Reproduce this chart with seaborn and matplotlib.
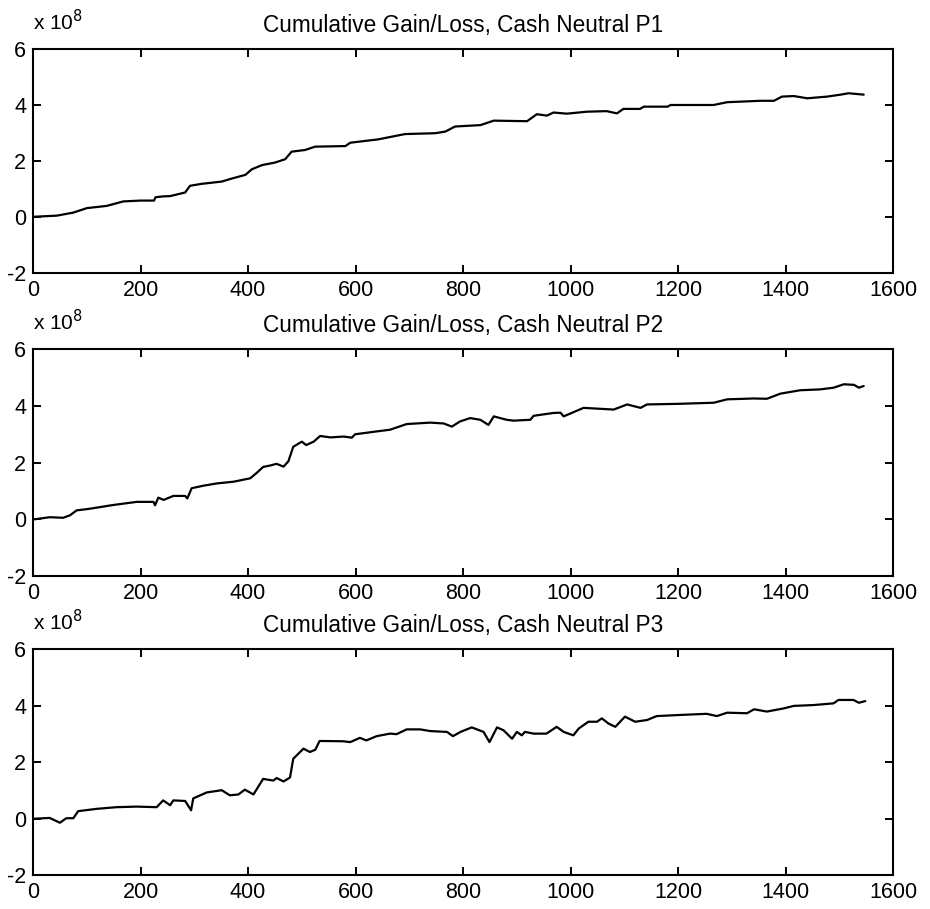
import matplotlib
matplotlib.use("Agg")
import matplotlib.pyplot as plt
import seaborn as sns
import pandas as pd

# values, y in units of 1e8
p1_x = [0, 44, 75, 100, 137, 168, 199, 225, 228, 242, 255, 283, 292, 314, 351, 370, 395, 407, 426, 450,
        469, 481, 506, 525, 581, 590, 642, 692, 748, 767, 785, 804, 832, 857, 919, 937, 956, 968, 993, 1030,
        1067, 1086, 1098, 1129, 1136, 1180, 1186, 1229, 1266, 1291, 1353, 1378, 1393, 1415, 1440, 1477, 1502, 1517, 1545]
p1_y = [0.0, 0.04, 0.15, 0.31, 0.39, 0.55, 0.58, 0.58, 0.70, 0.73, 0.74, 0.87, 1.11, 1.18, 1.26, 1.37, 1.50, 1.70, 1.85, 1.94,
        2.06, 2.33, 2.39, 2.51, 2.53, 2.65, 2.77, 2.96, 2.99, 3.05, 3.23, 3.25, 3.28, 3.44, 3.42, 3.67, 3.62, 3.73, 3.69, 3.76,
        3.78, 3.70, 3.86, 3.86, 3.94, 3.94, 4.00, 4.00, 4.00, 4.10, 4.15, 4.15, 4.30, 4.32, 4.24, 4.30, 4.37, 4.42, 4.37]

p2_x = [0, 31, 56, 69, 81, 106, 149, 193, 224, 227, 233, 243, 261, 283, 287, 295, 317, 342, 373, 404,
        416, 428, 441, 453, 466, 475, 484, 500, 508, 522, 534, 553, 578, 593, 599, 639, 664, 695, 739, 764,
        779, 794, 813, 832, 847, 857, 881, 894, 925, 931, 968, 981, 987, 1024, 1080, 1105, 1130, 1142, 1197, 1266,
        1291, 1340, 1365, 1390, 1427, 1464, 1489, 1508, 1527, 1536, 1545]
p2_y = [0.0, 0.08, 0.06, 0.15, 0.32, 0.38, 0.51, 0.62, 0.62, 0.50, 0.77, 0.69, 0.83, 0.83, 0.74, 1.10, 1.19, 1.27, 1.33, 1.45,
        1.64, 1.85, 1.90, 1.96, 1.86, 2.05, 2.56, 2.74, 2.62, 2.74, 2.94, 2.89, 2.92, 2.88, 3.00, 3.10, 3.16, 3.36, 3.41, 3.38,
        3.27, 3.45, 3.57, 3.51, 3.33, 3.63, 3.51, 3.48, 3.51, 3.65, 3.75, 3.76, 3.63, 3.93, 3.87, 4.05, 3.93, 4.05, 4.07, 4.11,
        4.23, 4.26, 4.25, 4.43, 4.55, 4.58, 4.64, 4.76, 4.74, 4.64, 4.70]

p3_x = [0, 31, 50, 62, 75, 84, 118, 155, 193, 230, 242, 255, 261, 283, 294, 298, 323, 351, 366, 382,
        394, 410, 428, 447, 453, 466, 478, 484, 503, 515, 525, 533, 577, 590, 608, 620, 639, 664, 676, 695,
        720, 739, 770, 781, 795, 816, 838, 849, 863, 875, 891, 900, 909, 915, 931, 955, 974, 987, 1005, 1015,
        1033, 1049, 1058, 1070, 1083, 1101, 1120, 1142, 1160, 1204, 1253, 1272, 1291, 1328, 1341, 1365, 1396, 1415, 1452, 1489,
        1498, 1526, 1536, 1548]
p3_y = [0.0, 0.03, -0.14, 0.02, 0.02, 0.27, 0.35, 0.41, 0.43, 0.41, 0.65, 0.48, 0.65, 0.63, 0.30, 0.72, 0.93, 1.01, 0.83, 0.86,
        1.03, 0.86, 1.41, 1.35, 1.44, 1.32, 1.46, 2.12, 2.48, 2.36, 2.44, 2.75, 2.74, 2.71, 2.86, 2.77, 2.92, 3.01, 2.99, 3.16,
        3.16, 3.10, 3.07, 2.92, 3.07, 3.23, 3.07, 2.71, 3.23, 3.13, 2.83, 3.07, 2.95, 3.07, 3.01, 3.01, 3.25, 3.07, 2.95, 3.19,
        3.43, 3.43, 3.55, 3.37, 3.25, 3.61, 3.43, 3.49, 3.63, 3.67, 3.71, 3.63, 3.75, 3.73, 3.87, 3.79, 3.90, 3.99, 4.02, 4.08,
        4.20, 4.20, 4.10, 4.16]

titles = ["Cumulative Gain/Loss, Cash Neutral P1",
          "Cumulative Gain/Loss, Cash Neutral P2",
          "Cumulative Gain/Loss, Cash Neutral P3"]
x_ticks = [0, 200, 400, 600, 800, 1000, 1200, 1400, 1600]
y_ticks = [-2, 0, 2, 4, 6]

sns.set_style("ticks")
plt.rcParams['font.family'] = ['Liberation Sans', 'DejaVu Sans']
plt.rcParams['axes.unicode_minus'] = False
plt.rcParams['text.color'] = 'black'

fig = plt.figure(figsize=(9.3, 9.09), dpi=100)
# axes boxes [left, bottom, width, height] in figure fraction
boxes = [[0.0355, 0.700, 0.925, 0.246],
         [0.0355, 0.366, 0.925, 0.250],
         [0.0355, 0.037, 0.925, 0.249]]
series = [(p1_x, p1_y), (p2_x, p2_y), (p3_x, p3_y)]

for box, (xs, ys), title in zip(boxes, series, titles):
    ax = fig.add_axes(box)
    df = pd.DataFrame({"day": xs, "gain": ys})
    sns.lineplot(data=df, x="day", y="gain", ax=ax, color="black",
                 linewidth=1.6, estimator=None, sort=False)
    ax.set_xlim(0, 1600)
    ax.set_ylim(-2, 6)
    ax.set_xticks(x_ticks)
    ax.set_yticks(y_ticks)
    ax.set_xlabel("")
    ax.set_ylabel("")
    for s in ax.spines.values():
        s.set_visible(True)
        s.set_linewidth(1.5)
        s.set_color("black")
    ax.tick_params(direction="in", top=True, right=True, length=6, width=1.4,
                   labelsize=15.5, colors="black", pad=5)
    ax.set_title(title, fontsize=16.3, pad=12, color="black")
    ax.text(0.0, 1.065, r"x 10$^{8}$", transform=ax.transAxes,
            fontsize=15, ha="left", va="bottom", color="black")

fig.savefig("out.png", dpi=100, facecolor="white")
